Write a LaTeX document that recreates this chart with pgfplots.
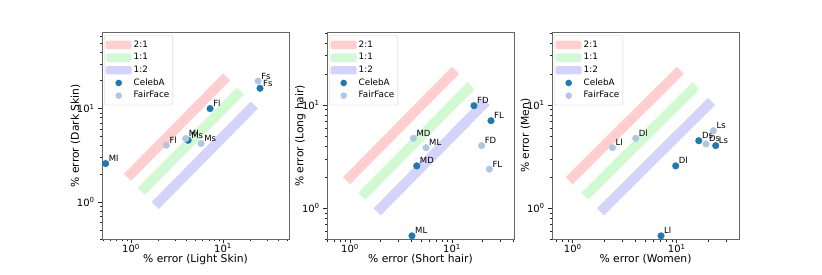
\documentclass[border=0pt]{standalone}
\usepackage{pgfplots}
\usepackage{pgfplotstable}
\pgfplotsset{compat=1.18}
\usepackage{fontspec}
\setmainfont{DejaVu Sans}
\definecolor{cA}{HTML}{1F77B4}
\definecolor{cF}{HTML}{AEC7E8}
\definecolor{bR}{RGB}{255,207,207}
\definecolor{bG}{RGB}{210,250,210}
\definecolor{bB}{RGB}{212,212,250}

% panel 1: skin
\pgfplotstableread{
x y lab
0.53 2.58 Ml
4.17 4.58 Ms
7.22 10.0 Fl
25.2 16.5 Fs
}\cAone
\pgfplotstableread{
x y lab
2.42 4.05 Fl
3.93 4.78 Ml
5.77 4.23 Ms
24.0 19.7 Fs
}\cFone
% panel 2: hair
\pgfplotstableread{
x y lab
4.05 0.54 ML
4.51 2.57 MD
16.4 9.84 FD
24.1 7.05 FL
}\cAtwo
\pgfplotstableread{
x y lab
4.18 4.76 MD
5.56 3.86 ML
19.5 4.04 FD
23.2 2.39 FL
}\cFtwo
% panel 3: gender
\pgfplotstableread{
x y lab
7.06 0.54 Ll
9.78 2.57 Dl
16.3 4.51 Ds
23.7 4.04 Ls
}\cAthree
\pgfplotstableread{
x y lab
2.41 3.86 Ll
4.03 4.76 Dl
19.1 4.19 Ds
22.5 5.64 Ls
}\cFthree

\pgfplotsset{
  every axis/.append style={
  scale only axis, width=187pt, height=207pt, anchor=south west,
  axis line style={black!60, line width=0.8pt},
  tick align=outside, xtick pos=left, ytick pos=left,
  major tick length=3.8pt, minor tick length=2.2pt,
  xtick={1,10}, ytick={1,10},
  xticklabels={10\textsuperscript{0},10\textsuperscript{1}},
  yticklabels={10\textsuperscript{0},10\textsuperscript{1}},
  tick label style={font=\fontsize{10}{12}\selectfont},
  xticklabel style={inner ysep=0.6pt},
  label style={font=\fontsize{10.75}{13}\selectfont},
  xlabel style={at={(axis description cs:0.5,0)}, anchor=center, yshift=-20pt},
  ylabel style={at={(axis description cs:-0.1422,0.5)}, anchor=center},
  legend style={at={(axis description cs:0.0107,0.9855)}, anchor=north west, draw=black!20, rounded corners=2pt,
    fill=white, font=\fontsize{8.8}{10}\selectfont, inner xsep=1.5pt, inner ysep=3pt,
    nodes={text height=6.5pt, text depth=1.9pt, inner ysep=2.15pt, inner xsep=2pt}},
  legend cell align=left,
 },
 every major tick/.append style={black!85, line width=0.8pt},
 every minor tick/.append style={black!85, line width=0.6pt},
}
\newcommand{\legimgs}{%
\addlegendimage{legend image code/.code={\fill[bR, draw=none] (0pt,-4.2pt) rectangle (26pt,4.2pt);}}
\addlegendentry{2:1}
\addlegendimage{legend image code/.code={\fill[bG, draw=none] (0pt,-4.2pt) rectangle (26pt,4.2pt);}}
\addlegendentry{1:1}
\addlegendimage{legend image code/.code={\fill[bB, draw=none] (0pt,-4.2pt) rectangle (26pt,4.2pt);}}
\addlegendentry{1:2}
\addlegendimage{legend image code/.code={\path[draw=none, fill=none] (0pt,-4.2pt) rectangle (26pt,4.2pt);\fill[cA, draw=none] (13pt,0pt) circle (3.3pt);}}
\addlegendentry{CelebA}
\addlegendimage{legend image code/.code={\path[draw=none, fill=none] (0pt,-4.2pt) rectangle (26pt,4.2pt);\fill[cF, draw=none] (13pt,0pt) circle (3.3pt);}}
\addlegendentry{FairFace}
}
\newcommand{\bands}{%
\addplot[forget plot, bR, line width=10pt, line cap=rect] coordinates {(1,2) (10,20)};
\addplot[forget plot, bG, line width=10pt, line cap=rect] coordinates {(1.414,1.414) (14.14,14.14)};
\addplot[forget plot, bB, line width=10pt, line cap=rect] coordinates {(2,1) (20,10)};
}
\newcommand{\dotplot}[2]{%
\addplot[forget plot, only marks, mark=*, mark size=3.3pt, color=#1,
   nodes near coords, point meta=explicit symbolic,
   every node near coord/.append style={anchor=base west, text=black, inner sep=0pt, xshift=3pt, yshift=2pt,
     font=\fontsize{8.5}{10}\selectfont}]
   table[x=x, y=y, meta=lab] {#2};
}

\begin{document}
\begin{tikzpicture}
\path[use as bounding box] (0,0) rectangle (822pt,274pt);

\begin{loglogaxis}[at={(102pt,34.7pt)},
  xmin=0.484, xmax=52, ymin=0.398, ymax=65.7,
  minor xtick={0.5,0.6,0.7,0.8,0.9,2,3,4,5,6,7,8,9,20,30,40,50},
  minor ytick={0.4,0.5,0.6,0.7,0.8,0.9,2,3,4,5,6,7,8,9,20,30,40,50,60},
  xlabel={\% error (Light Skin)}, ylabel={\% error (Dark Skin)}]
\legimgs
\bands
\dotplot{cA}{\cAone}
\dotplot{cF}{\cFone}
\end{loglogaxis}

\begin{loglogaxis}[at={(327pt,34.7pt)},
  xmin=0.595, xmax=40.5, ymin=0.5, ymax=50.6,
  minor xtick={0.6,0.7,0.8,0.9,2,3,4,5,6,7,8,9,20,30,40},
  minor ytick={0.5,0.6,0.7,0.8,0.9,2,3,4,5,6,7,8,9,20,30,40,50},
  xlabel={\% error (Short hair)}, ylabel={\% error (Long hair)}]
\legimgs
\bands
\dotplot{cA}{\cAtwo}
\dotplot{cF}{\cFtwo}
\end{loglogaxis}

\begin{loglogaxis}[at={(552pt,34.7pt)},
  xmin=0.632, xmax=39.7, ymin=0.5, ymax=50.6,
  minor xtick={0.7,0.8,0.9,2,3,4,5,6,7,8,9,20,30},
  minor ytick={0.5,0.6,0.7,0.8,0.9,2,3,4,5,6,7,8,9,20,30,40,50},
  xlabel={\% error (Women)}, ylabel={\% error (Men)}]
\legimgs
\bands
\dotplot{cA}{\cAthree}
\dotplot{cF}{\cFthree}
\end{loglogaxis}
\end{tikzpicture}
\end{document}
